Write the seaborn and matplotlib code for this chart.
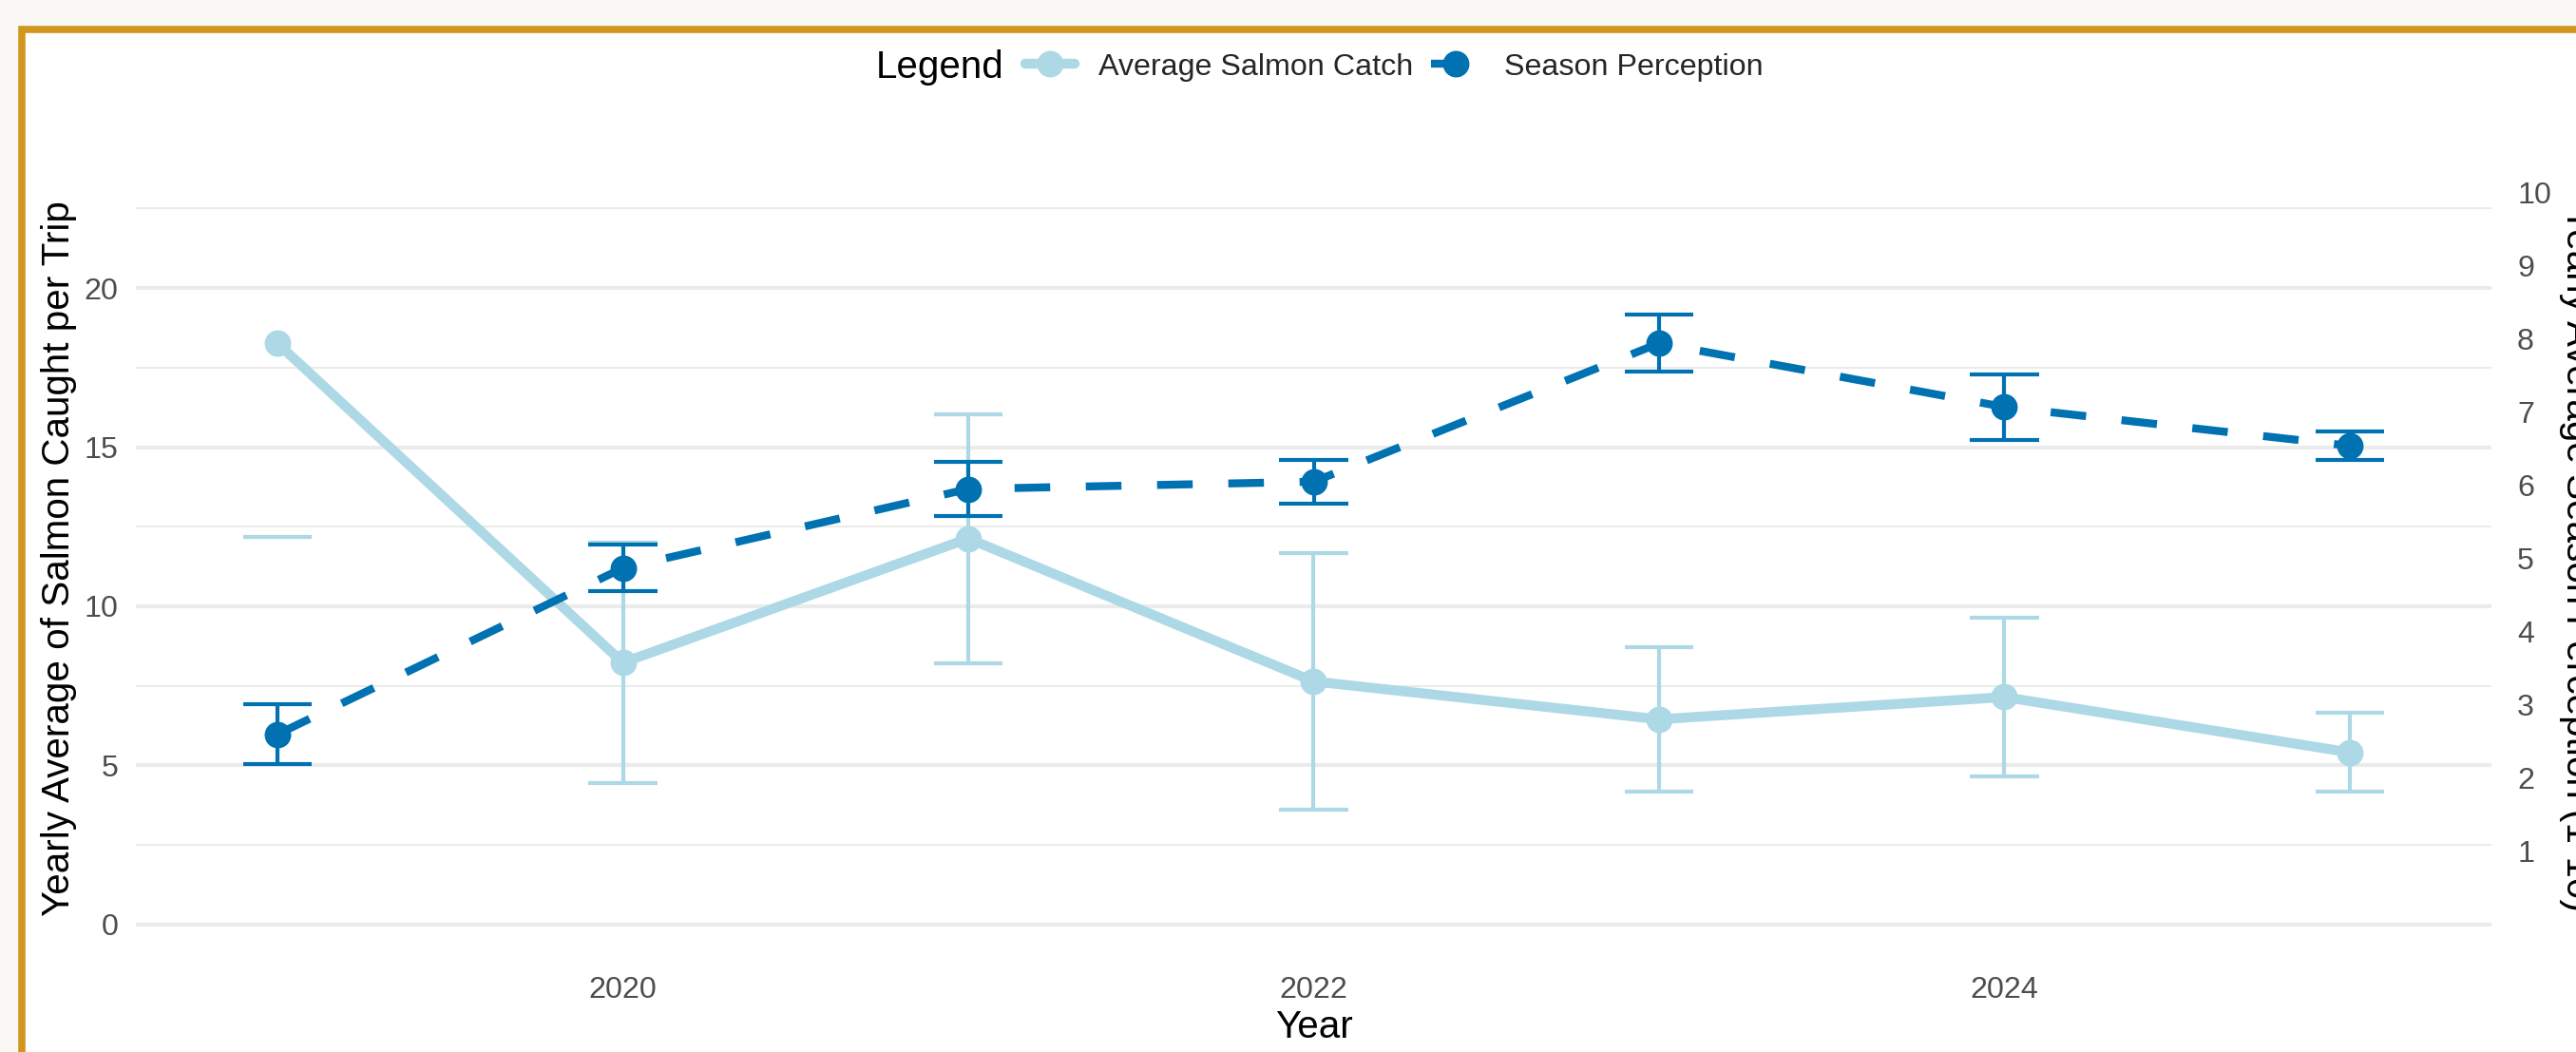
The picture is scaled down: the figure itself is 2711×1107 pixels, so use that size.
import matplotlib
matplotlib.use("Agg")
import matplotlib.pyplot as plt
from matplotlib.patches import Rectangle
import pandas as pd
import seaborn as sns

# ---- data -----------------------------------------------------------------
years = [2019, 2020, 2021, 2022, 2023, 2024, 2025]
catch_mean = [18.26, 8.23, 12.13, 7.64, 6.45, 7.15, 5.41]
catch_err = [6.07, 3.78, 3.91, 4.02, 2.26, 2.48, 1.24]
perception_mean = [2.60, 4.87, 5.95, 6.05, 7.94, 7.07, 6.54]
perception_err = [0.41, 0.32, 0.37, 0.30, 0.39, 0.45, 0.19]

year_ticks = [2020, 2022, 2024]
catch_ticks = [0, 5, 10, 15, 20]
catch_minor_ticks = [2.5, 7.5, 12.5, 17.5, 22.5]
perception_ticks = [1, 2, 3, 4, 5, 6, 7, 8, 9, 10]

CATCH_COLOR = "#ADD8E6"
PERCEPTION_COLOR = "#0072B2"
SCALE = 2.3                      # perception (1-10) -> catch units
CATCH_LIMIT = 10 * SCALE         # upper scale limit of the catch axis
PERCEPTION_LIMIT = 10

df = pd.DataFrame({
    "Year": years,
    "Catch": catch_mean,
    "CatchErr": catch_err,
    "Perception": perception_mean,
    "PerceptionErr": perception_err,
})

sns.set_theme(style="white")
plt.rcParams["font.family"] = ["Liberation Sans", "DejaVu Sans"]

W, H, DPI = 2711, 1107, 300
PX = 72 / DPI  # points per pixel

fig = plt.figure(figsize=(W / DPI, H / DPI), dpi=DPI, facecolor="#F9F8F4")

# framed card behind the chart
fig.add_artist(Rectangle((23.3 / W, -0.2), 1.3, 1 - 30.5 / H + 0.2,
                         transform=fig.transFigure, facecolor="white",
                         edgecolor="#D0961E", linewidth=7.6 * PX, zorder=-1))

left, right, top, bottom = 143, 2622, 164, 1011.5
ax = fig.add_axes([left / W, 1 - bottom / H, (right - left) / W, (bottom - top) / H])
ax.set_facecolor("none")
ax2 = ax.twinx()


def draw_errorbars(axis, data, ycol, ecol, limit, color, z):
    # values above the scale limit are dropped, leaving only the lower cap
    for _, row in data.iterrows():
        x, m, e = row["Year"], row[ycol], row[ecol]
        lo, hi = m - e, m + e
        kw = dict(color=color, linewidth=1.0, capstyle="butt", zorder=z)
        axis.hlines(lo, x - 0.1, x + 0.1, **kw)
        if hi <= limit:
            axis.hlines(hi, x - 0.1, x + 0.1, **kw)
            axis.vlines(x, lo, hi, **kw)


# average catch (left axis)
draw_errorbars(ax, df, "Catch", "CatchErr", CATCH_LIMIT, CATCH_COLOR, 2)
sns.lineplot(data=df, x="Year", y="Catch", ax=ax, color=CATCH_COLOR,
             linewidth=2.5, marker="o", markersize=6.7, markeredgewidth=0,
             errorbar=None, legend=False, zorder=3)
catch_handle = ax.get_lines()[-1]

# season perception (right axis)
draw_errorbars(ax2, df, "Perception", "PerceptionErr", PERCEPTION_LIMIT,
               PERCEPTION_COLOR, 2)
sns.lineplot(data=df, x="Year", y="Perception", ax=ax2, color=PERCEPTION_COLOR,
             linewidth=2.0, linestyle=(0, (4.5, 4.5)), marker="o",
             markersize=6.7, markeredgewidth=0, errorbar=None, legend=False,
             zorder=3)
perception_handle = ax2.get_lines()[-1]

# ---- scales ---------------------------------------------------------------
ylo, yhi = -0.05 * CATCH_LIMIT, 1.05 * CATCH_LIMIT
ax.set_ylim(ylo, yhi)
ax2.set_ylim(ylo / SCALE, yhi / SCALE)
ax.set_xlim(2018.59, 2025.41)

ax.set_xticks(year_ticks)
ax.set_xticklabels([str(y) for y in year_ticks])
ax.set_yticks(catch_ticks)
ax.set_yticks(catch_minor_ticks, minor=True)
ax2.set_yticks(perception_ticks)

ax.grid(False)
ax2.grid(False)
ax.grid(which="major", axis="y", color="#EBEBEB", linewidth=1.0)
ax.grid(which="minor", axis="y", color="#EBEBEB", linewidth=0.5)
ax.set_axisbelow(True)

for a in (ax, ax2):
    for s in a.spines.values():
        s.set_visible(False)

tick_kw = dict(length=0, labelsize=7.75, labelcolor="#4D4D4D")
ax.tick_params(axis="x", pad=3.7, **tick_kw)
ax.tick_params(axis="y", which="both", pad=4.5, **tick_kw)
ax2.tick_params(axis="y", pad=6.5, **tick_kw)

ax.set_xlabel("Year", fontsize=9.7, color="black", labelpad=1.3)
ax.set_ylabel("Yearly Average of Salmon Caught per Trip", fontsize=9.7,
              color="black", va="center")
ax.yaxis.set_label_coords(-0.0327, 0.5)
ax2.set_ylabel("Yearly Average Season Perception (1-10)", fontsize=9.7,
               color="black", rotation=-90, va="center", ha="center")
ax2.yaxis.set_label_coords(1.0363, 0.5)

# ---- legend ---------------------------------------------------------------
fig.text(922 / W, 1 - 70.5 / H, "Legend", fontsize=9.7, color="black",
         ha="left", va="center")
fig.legend([catch_handle, perception_handle],
           ["Average Salmon Catch", "Season Perception"],
           loc="center left", bbox_to_anchor=(1079 / W, 1 - 70.5 / H),
           ncol=2, frameon=False, fontsize=7.75, handlelength=1.6,
           handletextpad=0.78, columnspacing=0.6, borderpad=0,
           borderaxespad=0, numpoints=1)

fig.savefig("out.png", dpi=DPI, facecolor=fig.get_facecolor())
